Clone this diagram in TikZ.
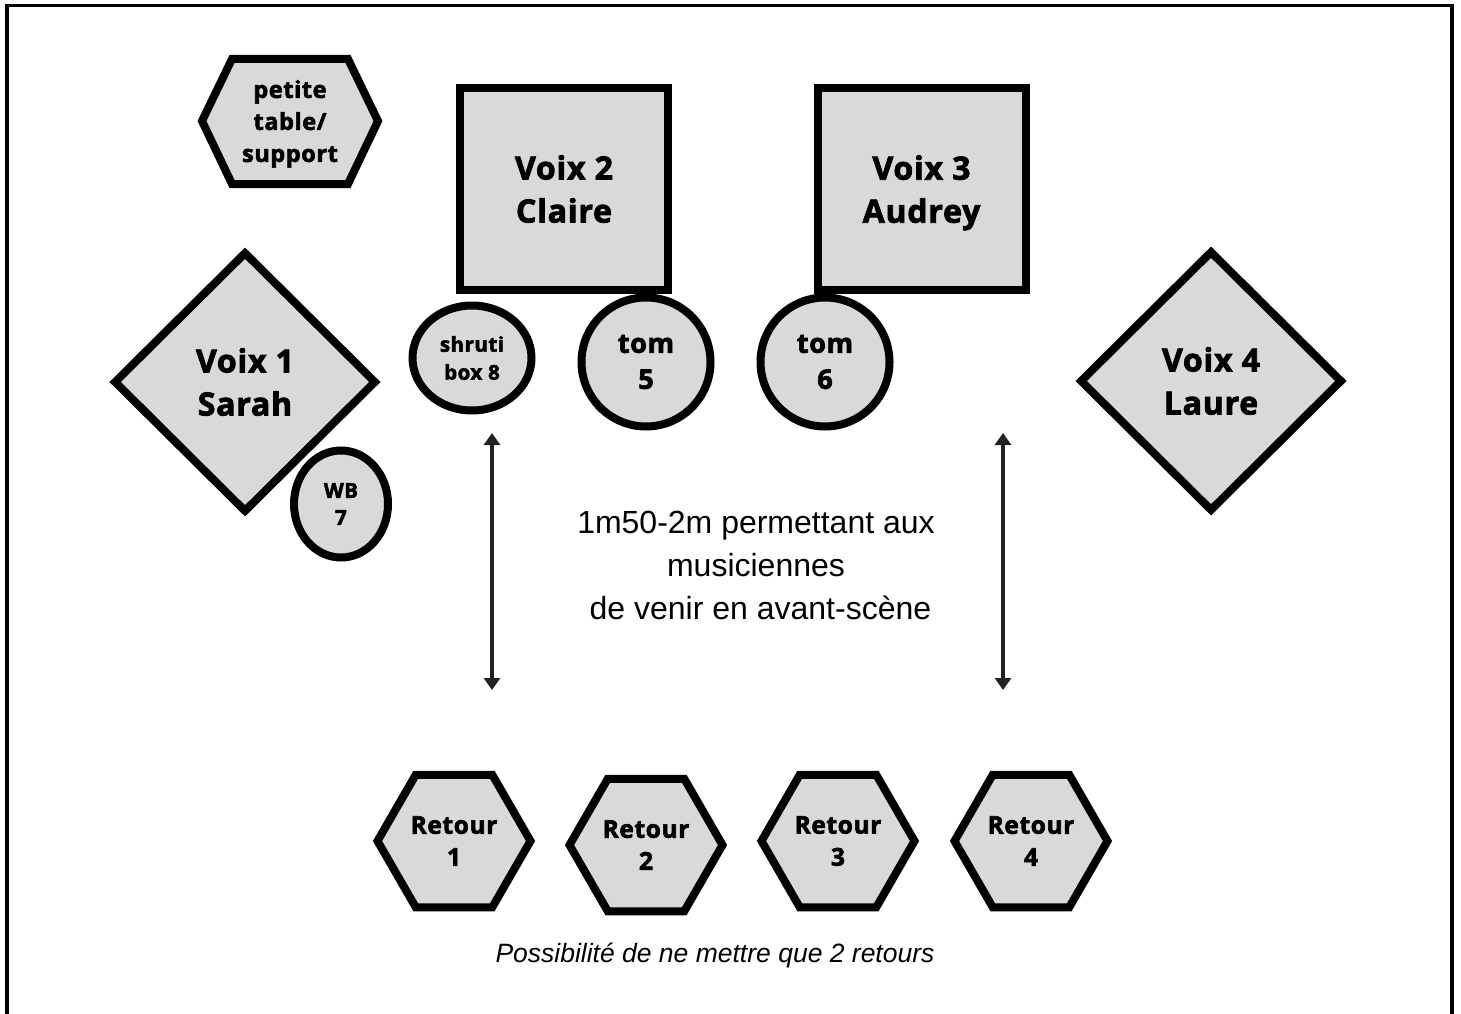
\documentclass[tikz,border=0pt]{standalone}
\usepackage{fontspec}
\setmainfont{Liberation Sans}
\newfontfamily\osb{Open Sans}[LetterSpace=2.5, BoldFeatures={FakeBold=2.5}]
\usetikzlibrary{shapes.geometric,arrows.meta}
\definecolor{shapefill}{HTML}{D9D9D9}
\definecolor{arrowcol}{HTML}{222222}
\tikzset{
  piece/.style={draw=black, fill=shapefill, line width=8pt, inner sep=0pt, align=center, text=black},
  voixfont/.style={font=\osb\bfseries\fontsize{32}{43}\selectfont},
  sq/.style={piece, voixfont, rectangle, minimum width=208pt, minimum height=202pt},
  dia/.style={piece, voixfont, diamond, minimum width=263pt, minimum height=261pt},
  retour/.style={piece, regular polygon, regular polygon sides=6, minimum size=153pt,
    font=\osb\bfseries\fontsize{24.5}{32}\selectfont},
  tomstyle/.style={piece, ellipse, minimum width=129pt, minimum height=129pt,
    font=\osb\bfseries\fontsize{27}{36}\selectfont},
  gap/.style={draw=arrowcol, line width=3.5pt, {Triangle[width=16pt,length=12pt]}-{Triangle[width=16pt,length=12pt]}},
}
\begin{document}
\begin{tikzpicture}[x=1pt,y=-1pt]
\useasboundingbox (0,0) rectangle (1461,1014);
\fill[white] (0,0) rectangle (1461,1014);
\draw[line width=3.5pt] (7,1030) -- (7,5.5) -- (1452,5.5) -- (1452,1030);

% petite table hexagon
\filldraw[draw=black, fill=shapefill, line width=8pt]
  (202,121) -- (232,59) -- (348,59) -- (378,121) -- (348,184) -- (232,184) -- cycle;
\node[align=center, font=\osb\bfseries\fontsize{23.5}{32}\selectfont] (table) at (290,121) {petite\\table/\\\smash{support}};

\node[sq] (v2) at (564,189) {Voix 2\\Claire};
\node[sq] (v3) at (921.5,189) {Voix 3\\\smash{Audrey}};

\node[dia] (v1) at (245,382) {Voix 1\\Sarah};
\node[dia] (v4) at (1211,381) {Voix 4\\Laure};

\node[piece, ellipse, minimum width=119pt, minimum height=105pt,
  font=\osb\bfseries\fontsize{20.5}{28}\selectfont] (shruti) at (472,358) {shruti\\box 8};
\node[tomstyle] (tom5) at (646,362) {tom\\5};
\node[tomstyle] (tom6) at (825,362) {tom\\6};
\node[piece, ellipse, minimum width=94pt, minimum height=107pt,
  font=\osb\bfseries\fontsize{20.5}{27}\selectfont] (wb) at (341,504) {WB\\7};

\node[font=\fontsize{32}{43}\selectfont, align=center] (gaptext) at (756,565)
  {1m50-2m permettant aux\\musiciennes\\\mbox{}\ de venir en avant-scène};

\coordinate (la) at (492,433);
\coordinate (lb) at (492,690);
\coordinate (ra) at (1003,433);
\coordinate (rb) at (1003,690);
\draw[gap] (la) -- (lb);
\draw[gap] (ra) -- (rb);

\node[retour] (r1) at (454,841) {Retour\\1};
\node[retour] (r2) at (646,845) {Retour\\2};
\node[retour] (r3) at (838,841) {Retour\\3};
\node[retour] (r4) at (1031,841) {Retour\\4};

\node[font=\itshape\fontsize{26.5}{32}\selectfont] (note) at (715,955) {Possibilité de ne mettre que 2 retours};
\end{tikzpicture}
\end{document}
